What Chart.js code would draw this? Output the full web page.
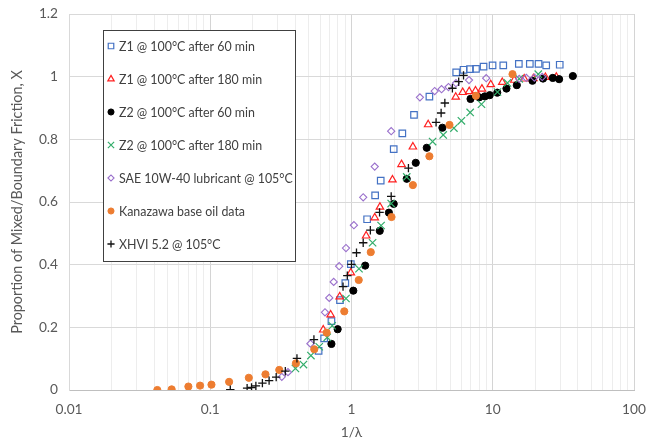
<!DOCTYPE html>
<html>
<head>
<meta charset="utf-8">
<script src="https://cdn.jsdelivr.net/npm/chart.js@4.4.0/dist/chart.umd.min.js"></script>
<style>
  html, body { margin: 0; padding: 0; background: #fff; }
  #wrap { width: 649px; height: 445px; }
</style>
</head>
<body>
<div id="wrap"><canvas id="chart" width="649" height="445"></canvas></div>
<script>
// Data (x = 1/lambda, y = proportion)

const seriesNames = [
    'Z1 @ 100\u00B0C after 60 min',
    'Z1 @ 100\u00B0C after 180 min',
    'Z2 @ 100\u00B0C after 60 min',
    'Z2 @ 100\u00B0C after 180 min',
    'SAE 10W-40 lubricant @ 105\u00B0C',
    'Kanazawa base oil data',
    'XHVI 5.2 @ 105\u00B0C'
];

const z1_60_x = [0.585, 0.640, 0.721, 0.829, 0.904, 0.989, 1.29, 1.47, 1.61, 1.99, 2.29, 2.77, 3.56,
    5.51, 6.21, 6.90, 7.61, 8.61, 9.97, 11.87, 15.3, 18.3, 21.1, 23.9, 29.8];
const z1_60_y = [0.125, 0.165, 0.220, 0.287, 0.341, 0.402, 0.545, 0.621, 0.668, 0.769, 0.819, 0.878, 0.936,
    1.014, 1.022, 1.024, 1.025, 1.032, 1.036, 1.036, 1.041, 1.041, 1.041, 1.036, 1.038];

const z1_180_x = [0.631, 0.712, 0.825, 0.989, 1.27, 1.46, 1.59, 1.95, 2.26, 2.72, 3.49, 5.47, 6.13,
    6.81, 7.55, 8.38, 9.68, 11.68, 14.2, 16.7, 19.4, 23.6, 28.2];
const z1_180_y = [0.192, 0.240, 0.298, 0.374, 0.492, 0.550, 0.584, 0.671, 0.720, 0.776, 0.847, 0.935, 0.950,
    0.953, 0.955, 0.961, 0.975, 0.982, 0.989, 0.993, 0.994, 0.998, 0.999];

const z2_60_x = [0.721, 0.798, 1.03, 1.25, 1.585, 1.84, 1.99, 2.46, 2.85, 3.41, 4.40, 6.96, 8.02,
    8.79, 9.52, 10.76, 12.5, 14.8, 19.1, 22.7, 26.6, 29.5, 36.9];
const z2_60_y = [0.147, 0.194, 0.317, 0.397, 0.508, 0.566, 0.594, 0.674, 0.725, 0.773, 0.837, 0.929, 0.934,
    0.937, 0.941, 0.949, 0.962, 0.973, 0.987, 0.994, 0.996, 0.992, 1.002];

const z2_180_x = [0.401, 0.457, 0.516, 0.591, 0.673, 0.73, 0.914, 1.13, 1.41, 1.62, 1.91, 2.46, 3.75,
    4.46, 5.31, 6.00, 6.92, 8.32, 10.8, 12.7, 15.4, 21.0];
const z2_180_y = [0.069, 0.081, 0.110, 0.138, 0.168, 0.205, 0.292, 0.387, 0.470, 0.525, 0.595, 0.680, 0.793,
    0.814, 0.836, 0.859, 0.886, 0.912, 0.951, 0.980, 0.993, 1.008];

const sae_x = [0.321, 0.355, 0.512, 0.649, 0.696, 0.748, 0.818, 0.914, 1.04, 1.21, 1.46, 1.91, 3.05,
    3.88, 4.34, 4.86, 5.49, 6.79, 8.99, 15.4, 17.3, 19.7, 22.4];
const sae_y = [0.042, 0.057, 0.148, 0.248, 0.294, 0.345, 0.395, 0.453, 0.526, 0.615, 0.713, 0.826, 0.934,
    0.954, 0.960, 0.967, 0.979, 0.989, 0.995, 0.993, 0.996, 0.997, 0.999];

const kanazawa_x = [0.0422, 0.0533, 0.070, 0.0847, 0.102, 0.136, 0.1875, 0.246, 0.308, 0.404, 0.545,
    0.667, 0.889, 1.125, 1.369, 1.92, 2.72, 3.56, 4.94, 7.6, 13.8];
const kanazawa_y = [0.0, 0.002, 0.011, 0.014, 0.017, 0.026, 0.039, 0.050, 0.064, 0.085, 0.130,
    0.183, 0.251, 0.351, 0.44, 0.552, 0.654, 0.746, 0.846, 0.939, 1.008];

const xhvi_x = [0.1386, 0.1824, 0.196, 0.2104, 0.234, 0.261, 0.293, 0.340, 0.411, 0.542, 0.871, 0.934,
    1.0, 1.085, 1.21, 1.36, 1.58, 1.91, 2.53, 3.97, 4.31, 4.58, 5.18, 5.74, 6.21];
const xhvi_y = [0.001, 0.006, 0.008, 0.013, 0.022, 0.030, 0.041, 0.060, 0.101, 0.161, 0.330, 0.365,
    0.401, 0.438, 0.470, 0.510, 0.567, 0.618, 0.708, 0.854, 0.884, 0.916, 0.963, 0.984, 1.004];

const xDecades = [0.01, 0.1, 1, 10, 100];
const yTicks = [0, 0.2, 0.4, 0.6, 0.8, 1, 1.2];

// Helpers

function zip(xs, ys) {
    return xs.map((x, i) => ({ x: x, y: ys[i] }));
}

function isDecade(v) {
    const l = Math.log10(v);
    return Math.abs(l - Math.round(l)) < 1e-6;
}

function minorTicks() {
    const out = [];
    for (let d = 0; d < xDecades.length - 1; d++) {
        for (let m = 1; m < 10; m++) out.push(xDecades[d] * m);
    }
    out.push(xDecades[xDecades.length - 1]);
    return out;
}

const FONT = 'Lato, "Open Sans", sans-serif';
const TEXT = '#595959';

// pick a font size so that text spans roughly the width seen in the reference
const measureCtx = document.createElement('canvas').getContext('2d');
function fitSize(text, target) {
    measureCtx.font = '100px ' + FONT;
    return Math.round(100 * target / measureCtx.measureText(text).width * 10) / 10;
}

const legendSize = fitSize(seriesNames[0], 136);
const tickSize = fitSize('0.01', 27);
const yTitleSize = fitSize('Proportion of Mixed/Boundary Friction, X', 264);

const styles = [
    { pointStyle: 'rect', radius: 4.6, color: '#4472c4', fill: false, width: 1.2 },
    { pointStyle: 'triangle', radius: 4.3, color: '#ff2020', fill: false, width: 1.2 },
    { pointStyle: 'circle', radius: 3.6, color: '#000000', fill: true, width: 1 },
    { pointStyle: 'crossRot', radius: 5.2, color: '#33ad6b', fill: false, width: 1.2 },
    { pointStyle: 'rectRot', radius: 3.6, color: '#9a70cc', fill: false, width: 1.1 },
    { pointStyle: 'circle', radius: 3.6, color: '#ed7d31', fill: true, width: 1 },
    { pointStyle: 'cross', radius: 4.2, color: '#111111', fill: false, width: 1.3 }
];

const seriesData = [
    zip(z1_60_x, z1_60_y),
    zip(z1_180_x, z1_180_y),
    zip(z2_60_x, z2_60_y),
    zip(z2_180_x, z2_180_y),
    zip(sae_x, sae_y),
    zip(kanazawa_x, kanazawa_y),
    zip(xhvi_x, xhvi_y)
];

const datasets = seriesData.map((data, i) => {
    const s = styles[i];
    return {
        label: seriesNames[i],
        data: data,
        showLine: false,
        pointStyle: s.pointStyle,
        pointRadius: s.radius,
        pointHoverRadius: s.radius,
        borderColor: s.color,
        backgroundColor: s.fill ? s.color : 'rgba(0,0,0,0)',
        borderWidth: s.width,
        order: seriesData.length - i
    };
});

// Excel-like legend box inside the plot area
const boxLegend = {
    id: 'boxLegend',
    afterDraw(chart) {
        const ctx = chart.ctx;
        const left = 103, top = 30, w = 192, h = 231;
        ctx.save();
        ctx.fillStyle = '#ffffff';
        ctx.fillRect(left, top, w, h);
        ctx.strokeStyle = '#404040';
        ctx.lineWidth = 1;
        ctx.strokeRect(left + 0.5, top + 0.5, w, h);
        ctx.font = legendSize + 'px ' + FONT;
        ctx.textBaseline = 'middle';
        ctx.textAlign = 'left';
        chart.data.datasets.forEach((ds, i) => {
            const y = 46 + i * 33;
            const s = styles[i];
            ctx.save();
            ctx.strokeStyle = s.color;
            ctx.fillStyle = s.fill ? s.color : 'rgba(0,0,0,0)';
            ctx.lineWidth = s.width;
            Chart.helpers.drawPoint(ctx, {
                pointStyle: s.pointStyle,
                radius: s.radius * 0.85,
                rotation: 0,
                borderWidth: s.width
            }, 111, y);
            ctx.restore();
            ctx.fillStyle = '#404040';
            ctx.fillText(ds.label, 119, y + 0.5);
        });
        ctx.restore();
    }
};

new Chart(document.getElementById('chart'), {
    type: 'scatter',
    data: { datasets: datasets },
    options: {
        responsive: false,
        animation: false,
        layout: { padding: { top: 14, right: 15, left: 0, bottom: 0 } },
        plugins: {
            legend: { display: false },
            tooltip: { enabled: false }
        },
        scales: {
            x: {
                type: 'logarithmic',
                min: xDecades[0],
                max: xDecades[xDecades.length - 1],
                afterBuildTicks(scale) {
                    scale.ticks = minorTicks().map(v => ({ value: v }));
                },
                afterFit(scale) {
                    scale.height = 55;
                    scale.paddingLeft = 0;
                    scale.paddingRight = 0;
                },
                ticks: {
                    autoSkip: false,
                    maxRotation: 0,
                    padding: 11,
                    color: TEXT,
                    font: { family: FONT, size: tickSize },
                    callback: v => isDecade(v) ? String(+v.toPrecision(3)) : ''
                },
                grid: {
                    drawTicks: false,
                    color: c => (c.tick && isDecade(c.tick.value)) ? '#d4d4d4' : '#ededed',
                    lineWidth: 1
                },
                border: { color: '#bfbfbf' },
                title: {
                    display: true,
                    text: '1/\u03BB',
                    color: TEXT,
                    font: { family: FONT, size: tickSize },
                    padding: { top: 3 }
                }
            },
            y: {
                min: 0,
                max: 1.2,
                afterBuildTicks(scale) {
                    scale.ticks = yTicks.map(v => ({ value: v }));
                },
                afterFit(scale) {
                    scale.width = 69;
                    scale.paddingTop = 0;
                    scale.paddingBottom = 0;
                },
                ticks: {
                    padding: 11,
                    color: TEXT,
                    font: { family: FONT, size: tickSize },
                    callback: v => String(+v.toFixed(1))
                },
                grid: { drawTicks: false, color: '#d9d9d9' },
                border: { color: '#d9d9d9' },
                title: {
                    display: true,
                    text: 'Proportion of Mixed/Boundary Friction, X',
                    color: TEXT,
                    font: { family: FONT, size: yTitleSize },
                    padding: { top: 9, bottom: 4 }
                }
            }
        }
    },
    plugins: [boxLegend]
});
</script>
</body>
</html>
